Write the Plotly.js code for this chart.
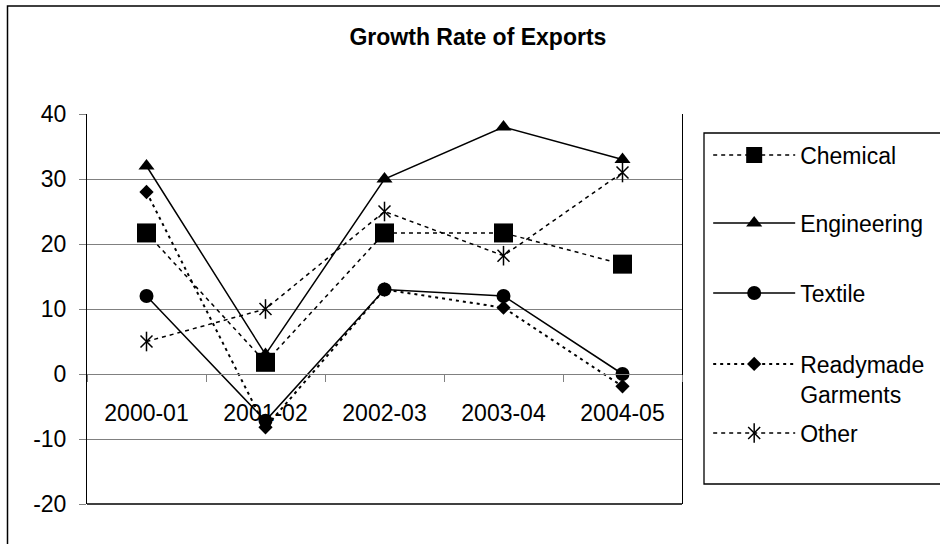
<!DOCTYPE html>
<html>
<head>
<meta charset="utf-8">
<script src="https://cdn.plot.ly/plotly-3.0.1.min.js"></script>
<style>html,body{margin:0;padding:0;background:#fff;}#chart{width:940px;height:544px;}</style>
</head>
<body>
<div id="chart"></div>
<script>
const categories = ['2000-01', '2001-02', '2002-03', '2003-04', '2004-05'];
const chemical = [21.7, 1.8, 21.7, 21.7, 16.9];
const engineering = [32, 3, 30, 38, 33];
const textile = [12, -7.2, 13, 12, 0];
const readymade = [28, -8.2, 13, 10.2, -1.9];
const other = [5, 10, 25, 18.2, 31];
const yTicks = [-20, -10, 0, 10, 20, 30, 40];

const FONT = 'Liberation Sans, Arial, sans-serif';

const traces = [
  {name: 'Chemical', x: categories, y: chemical, mode: 'lines+markers', legend: 'legend',
   line: {color: '#000', width: 1.5, dash: '4px,4px'},
   marker: {symbol: 'square', size: 19, color: '#000'}},
  {name: 'Engineering', x: categories, y: engineering, mode: 'lines+markers', legend: 'legend2',
   line: {color: '#000', width: 1.5},
   marker: {symbol: 'triangle-up', size: 14, color: '#000'}},
  {name: 'Textile', x: categories, y: textile, mode: 'lines+markers', legend: 'legend3',
   line: {color: '#000', width: 1.5},
   marker: {symbol: 'circle', size: 14, color: '#000'}},
  {name: 'Readymade<br>Garments', x: categories, y: readymade, mode: 'lines+markers', legend: 'legend4',
   line: {color: '#000', width: 2, dash: '3px,4px'},
   marker: {symbol: 'diamond', size: 11, color: '#000'}},
  {name: 'Other', x: categories, y: other, mode: 'lines+markers', legend: 'legend5',
   line: {color: '#000', width: 1.5, dash: '4px,4px'},
   marker: {symbol: 'x-thin-open', size: 12, color: '#000', line: {color: '#000', width: 1.5}}},
  {name: ' ', x: categories, y: other, mode: 'markers', legend: 'legend6',
   marker: {symbol: 'line-ns-open', size: 14, color: '#000', line: {color: '#000', width: 1.5}}}
];

function lg(y) {
  return {x: 1.044, xanchor: 'left', y: y, yanchor: 'middle', bgcolor: 'rgba(0,0,0,0)',
          borderwidth: 0, itemwidth: 82, valign: 'top',
          font: {family: FONT, size: 23, color: '#000'}};
}

const layout = {
  width: 940, height: 544,
  margin: {l: 87, r: 258, t: 114, b: 40, pad: 0, autoexpand: false},
  paper_bgcolor: '#fff', plot_bgcolor: '#fff',
  showlegend: true,
  title: {text: '<b>Growth Rate of Exports</b>', font: {family: FONT, size: 23, color: '#000'},
          xref: 'paper', x: 0.657, xanchor: 'center', yref: 'container', y: 0.932, yanchor: 'middle'},
  xaxis: {type: 'category', range: [-0.5, 4.5], anchor: 'free', position: 1/3,
          showline: true, linecolor: '#808080', linewidth: 1,
          ticks: 'outside', tickson: 'boundaries', ticklen: 7, tickcolor: '#808080', tickwidth: 1,
          ticklabelstandoff: 18, showgrid: false, zeroline: false,
          tickfont: {family: FONT, size: 23, color: '#000'}},
  yaxis: {range: [-20, 40], tickvals: yTicks, ticktext: yTicks.map(String),
          showline: true, mirror: true, linecolor: '#000', linewidth: 1,
          ticks: 'outside', ticklen: 7, tickcolor: '#808080', tickwidth: 1, ticklabelstandoff: 8,
          showgrid: true, gridcolor: '#808080', gridwidth: 1, zeroline: false,
          tickfont: {family: FONT, size: 23, color: '#000'}},
  legend: lg(0.8949), legend2: lg(0.7205), legend3: lg(0.5410),
  legend4: lg(0.3205), legend5: lg(0.1821), legend6: lg(0.1821),
  shapes: [
    {type: 'line', xref: 'paper', yref: 'paper', x0: 0, x1: 1, y0: 0, y1: 0, line: {color: '#000', width: 1.3}},
    {type: 'rect', xref: 'paper', yref: 'paper', x0: (704-87)/595, x1: (960-87)/595,
     y0: (504-484)/390, y1: (504-133)/390, line: {color: '#000', width: 1.3}},
    {type: 'rect', xref: 'paper', yref: 'paper', x0: (7.5-87)/595, x1: (960-87)/595,
     y0: (504-560)/390, y1: (504-6)/390, line: {color: '#000', width: 1.5}}
  ]
};

Plotly.newPlot('chart', traces, layout, {displayModeBar: false, staticPlot: true});
</script>
</body>
</html>
